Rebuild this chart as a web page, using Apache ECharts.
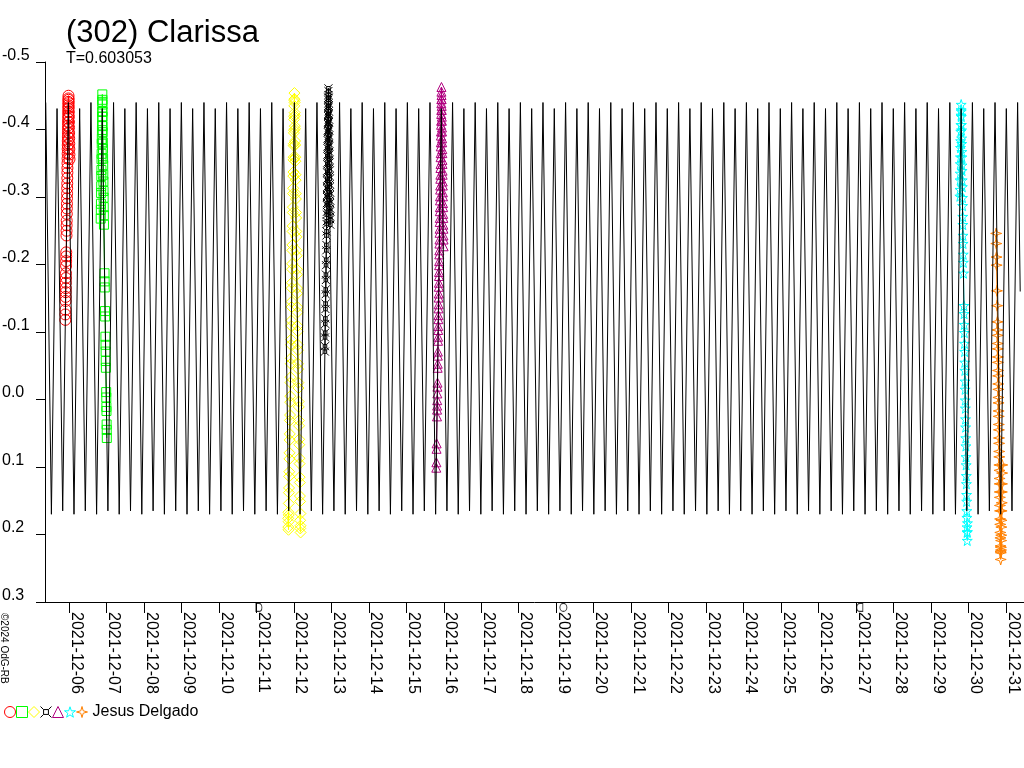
<!DOCTYPE html>
<html>
<head>
<meta charset="utf-8">
<script src="https://cdn.jsdelivr.net/npm/echarts@6/dist/echarts.min.js"></script>
<style>html,body{margin:0;padding:0;background:#fff}#c{width:1024px;height:768px}</style>
</head>
<body>
<div id="c"></div>
<script>
// ---- data (time in days from 2021-12-06 00:00) ----
const titleText = '(302) Clarissa';
const periodText = 'T=0.603053';
const observer = 'Jesus Delgado';
const credit = '\u00a92024 OdG-RB';
const tickLabels = ['2021-12-06','2021-12-07','2021-12-08','2021-12-09','2021-12-10','2021-12-11','2021-12-12','2021-12-13','2021-12-14','2021-12-15','2021-12-16','2021-12-17','2021-12-18','2021-12-19','2021-12-20','2021-12-21','2021-12-22','2021-12-23','2021-12-24','2021-12-25','2021-12-26','2021-12-27','2021-12-28','2021-12-29','2021-12-30','2021-12-31'];
const xMin = -0.6403, xMax = 25.481;

// model lightcurve: one period, repeated with period T
const period = 0.603053;
const epochMax = -0.0174;          // a primary maximum
const shapePhase = [0, 0.25, 0.5, 0.75];
const shapeMag = [-0.440, 0.170, -0.431, 0.165];
const curveStartT = -0.6205;
const curveEnd = [25.38, -0.16];

const obsRed = [[-0.098,-0.118],[-0.096,-0.126],[-0.094,-0.133],[-0.091,-0.146],[-0.089,-0.152],[-0.088,-0.159],[-0.086,-0.165],[-0.084,-0.173],[-0.082,-0.180],[-0.081,-0.187],[-0.078,-0.198],[-0.076,-0.205],[-0.074,-0.212],[-0.073,-0.218],[-0.067,-0.243],[-0.065,-0.250],[-0.063,-0.258],[-0.061,-0.265],[-0.059,-0.275],[-0.057,-0.283],[-0.055,-0.290],[-0.053,-0.298],[-0.051,-0.305],[-0.049,-0.313],[-0.047,-0.320],[-0.045,-0.328],[-0.043,-0.336],[-0.042,-0.343],[-0.040,-0.350],[-0.038,-0.357],[-0.036,-0.364],[-0.035,-0.371],[-0.033,-0.377],[-0.032,-0.383],[-0.030,-0.389],[-0.029,-0.395],[-0.027,-0.401],[-0.026,-0.406],[-0.025,-0.411],[-0.023,-0.416],[-0.022,-0.421],[-0.021,-0.426],[-0.020,-0.431],[-0.019,-0.436],[-0.017,-0.441],[-0.015,-0.446],[-0.013,-0.450],[-0.011,-0.444],[-0.009,-0.439],[-0.007,-0.433],[-0.005,-0.426],[-0.003,-0.419],[-0.001,-0.411],[0.001,-0.403],[0.003,-0.395],[0.005,-0.387],[0.007,-0.379],[0.009,-0.371],[0.011,-0.363],[0.013,-0.356]];
const obsGreen = [[0.846,-0.268],[0.850,-0.281],[0.853,-0.290],[0.856,-0.306],[0.859,-0.316],[0.862,-0.331],[0.865,-0.340],[0.868,-0.356],[0.871,-0.364],[0.874,-0.379],[0.876,-0.386],[0.879,-0.399],[0.881,-0.406],[0.884,-0.419],[0.886,-0.426],[0.888,-0.441],[0.889,-0.452],[0.891,-0.444],[0.892,-0.437],[0.894,-0.427],[0.896,-0.419],[0.898,-0.405],[0.900,-0.396],[0.903,-0.381],[0.906,-0.371],[0.909,-0.357],[0.912,-0.347],[0.915,-0.333],[0.918,-0.323],[0.921,-0.309],[0.924,-0.299],[0.927,-0.285],[0.930,-0.273],[0.933,-0.259],[0.948,-0.187],[0.951,-0.175],[0.954,-0.166],[0.962,-0.131],[0.965,-0.123],[0.972,-0.093],[0.975,-0.081],[0.978,-0.071],[0.981,-0.057],[0.984,-0.047],[0.992,-0.011],[0.995,-0.003],[0.998,0.011],[1.000,0.017],[1.004,0.037],[1.007,0.045],[1.009,0.057]];
const obsYellow = [[5.848,0.176],[5.851,0.189],[5.854,0.167],[5.857,0.193],[5.860,0.181],[5.863,0.171],[5.865,0.154],[5.868,0.138],[5.871,0.131],[5.874,0.114],[5.877,0.107],[5.881,0.088],[5.884,0.079],[5.888,0.060],[5.891,0.051],[5.895,0.031],[5.898,0.023],[5.902,0.004],[5.905,-0.005],[5.909,-0.025],[5.912,-0.033],[5.916,-0.053],[5.919,-0.061],[5.923,-0.081],[5.926,-0.089],[5.930,-0.109],[5.933,-0.117],[5.937,-0.137],[5.940,-0.145],[5.944,-0.165],[5.947,-0.173],[5.951,-0.193],[5.954,-0.201],[5.958,-0.221],[5.961,-0.229],[5.965,-0.249],[5.968,-0.257],[5.972,-0.277],[5.975,-0.285],[5.979,-0.305],[5.982,-0.313],[5.985,-0.331],[5.988,-0.337],[5.991,-0.355],[5.994,-0.359],[5.996,-0.376],[5.999,-0.379],[6.001,-0.395],[6.004,-0.399],[6.006,-0.415],[6.009,-0.419],[6.011,-0.435],[6.013,-0.445],[6.015,-0.454],[6.017,-0.443],[6.019,-0.440],[6.021,-0.425],[6.024,-0.421],[6.026,-0.405],[6.029,-0.401],[6.032,-0.383],[6.035,-0.377],[6.038,-0.359],[6.040,-0.353],[6.043,-0.333],[6.047,-0.325],[6.050,-0.305],[6.054,-0.297],[6.057,-0.277],[6.061,-0.269],[6.064,-0.249],[6.068,-0.241],[6.071,-0.221],[6.075,-0.213],[6.078,-0.193],[6.082,-0.185],[6.085,-0.165],[6.089,-0.157],[6.092,-0.137],[6.096,-0.129],[6.099,-0.109],[6.103,-0.101],[6.106,-0.081],[6.110,-0.073],[6.113,-0.053],[6.117,-0.045],[6.120,-0.025],[6.124,-0.017],[6.127,0.003],[6.131,0.011],[6.134,0.031],[6.138,0.039],[6.141,0.059],[6.145,0.067],[6.148,0.087],[6.152,0.095],[6.155,0.115],[6.159,0.123],[6.162,0.143],[6.166,0.151],[6.168,0.179],[6.171,0.191],[6.174,0.169],[6.177,0.187],[6.180,0.197]];
const obsBlack = [[6.828,-0.071],[6.830,-0.079],[6.832,-0.092],[6.835,-0.099],[6.837,-0.112],[6.840,-0.120],[6.843,-0.134],[6.846,-0.142],[6.849,-0.156],[6.851,-0.163],[6.854,-0.177],[6.856,-0.185],[6.859,-0.199],[6.862,-0.207],[6.865,-0.221],[6.867,-0.229],[6.870,-0.243],[6.872,-0.249],[6.874,-0.260],[6.876,-0.264],[6.878,-0.274],[6.880,-0.278],[6.881,-0.288],[6.883,-0.291],[6.884,-0.300],[6.886,-0.303],[6.888,-0.312],[6.889,-0.315],[6.890,-0.324],[6.892,-0.327],[6.893,-0.336],[6.895,-0.339],[6.896,-0.348],[6.898,-0.351],[6.899,-0.360],[6.901,-0.363],[6.902,-0.372],[6.904,-0.375],[6.905,-0.384],[6.907,-0.387],[6.908,-0.396],[6.910,-0.399],[6.911,-0.408],[6.913,-0.411],[6.914,-0.420],[6.916,-0.423],[6.917,-0.432],[6.918,-0.435],[6.919,-0.444],[6.920,-0.447],[6.921,-0.457],[6.922,-0.461],[6.924,-0.451],[6.926,-0.447],[6.927,-0.439],[6.929,-0.435],[6.930,-0.427],[6.932,-0.423],[6.933,-0.415],[6.935,-0.411],[6.936,-0.403],[6.938,-0.399],[6.939,-0.391],[6.941,-0.387],[6.942,-0.379],[6.944,-0.375],[6.945,-0.367],[6.947,-0.363],[6.948,-0.355],[6.950,-0.351],[6.951,-0.343],[6.953,-0.339],[6.954,-0.331],[6.956,-0.327],[6.957,-0.319],[6.959,-0.315],[6.960,-0.307],[6.962,-0.303],[6.963,-0.295],[6.965,-0.291],[6.966,-0.283],[6.968,-0.279],[6.969,-0.271],[6.971,-0.267],[6.972,-0.259]];
const obsPurple = [[9.800,0.101],[9.802,0.093],[9.807,0.073],[9.809,0.065],[9.819,0.025],[9.821,0.015],[9.823,0.009],[9.825,0.001],[9.828,-0.009],[9.830,-0.019],[9.832,-0.025],[9.837,-0.047],[9.839,-0.053],[9.841,-0.065],[9.843,-0.071],[9.847,-0.087],[9.849,-0.093],[9.851,-0.103],[9.853,-0.109],[9.855,-0.119],[9.857,-0.125],[9.859,-0.135],[9.861,-0.141],[9.863,-0.151],[9.865,-0.157],[9.867,-0.167],[9.869,-0.173],[9.871,-0.183],[9.873,-0.189],[9.875,-0.199],[9.877,-0.205],[9.879,-0.215],[9.881,-0.221],[9.883,-0.231],[9.885,-0.237],[9.887,-0.247],[9.889,-0.253],[9.891,-0.263],[9.893,-0.269],[9.895,-0.279],[9.897,-0.285],[9.899,-0.295],[9.901,-0.301],[9.903,-0.311],[9.905,-0.317],[9.907,-0.327],[9.909,-0.333],[9.911,-0.343],[9.913,-0.349],[9.915,-0.359],[9.917,-0.365],[9.919,-0.375],[9.921,-0.381],[9.923,-0.391],[9.925,-0.397],[9.927,-0.407],[9.929,-0.413],[9.931,-0.423],[9.933,-0.429],[9.934,-0.439],[9.935,-0.445],[9.937,-0.456],[9.938,-0.463],[9.940,-0.451],[9.942,-0.445],[9.944,-0.435],[9.946,-0.429],[9.948,-0.419],[9.950,-0.413],[9.952,-0.403],[9.954,-0.397],[9.956,-0.387],[9.958,-0.381],[9.960,-0.371],[9.962,-0.365],[9.964,-0.355],[9.966,-0.349],[9.968,-0.339],[9.970,-0.333],[9.972,-0.323],[9.974,-0.317],[9.976,-0.307],[9.978,-0.301],[9.980,-0.291],[9.982,-0.285],[9.984,-0.275],[9.986,-0.269],[9.988,-0.259],[9.990,-0.253],[9.992,-0.243],[9.994,-0.237],[9.996,-0.227]];
const obsCyan = [[23.771,-0.301],[23.774,-0.311],[23.777,-0.325],[23.779,-0.335],[23.782,-0.349],[23.785,-0.359],[23.788,-0.373],[23.791,-0.383],[23.794,-0.397],[23.797,-0.407],[23.800,-0.421],[23.803,-0.429],[23.805,-0.437],[23.807,-0.427],[23.809,-0.419],[23.812,-0.407],[23.814,-0.399],[23.817,-0.387],[23.819,-0.379],[23.822,-0.367],[23.824,-0.359],[23.827,-0.347],[23.829,-0.339],[23.832,-0.325],[23.835,-0.315],[23.839,-0.299],[23.842,-0.287],[23.846,-0.271],[23.849,-0.259],[23.853,-0.243],[23.856,-0.231],[23.860,-0.215],[23.863,-0.203],[23.867,-0.187],[23.879,-0.139],[23.882,-0.127],[23.886,-0.111],[23.889,-0.099],[23.893,-0.083],[23.896,-0.071],[23.900,-0.055],[23.903,-0.043],[23.907,-0.027],[23.910,-0.015],[23.914,0.001],[23.917,0.013],[23.921,0.029],[23.924,0.041],[23.928,0.057],[23.931,0.069],[23.935,0.085],[23.938,0.097],[23.942,0.113],[23.945,0.125],[23.949,0.141],[23.952,0.151],[23.955,0.165],[23.958,0.175],[23.961,0.189],[23.964,0.197],[23.967,0.209],[23.970,0.196],[23.973,0.183]];
const obsOrange = [[24.739,-0.246],[24.742,-0.231],[24.748,-0.211],[24.750,-0.199],[24.760,-0.161],[24.765,-0.139],[24.772,-0.115],[24.774,-0.103],[24.777,-0.095],[24.779,-0.083],[24.782,-0.075],[24.784,-0.063],[24.787,-0.055],[24.789,-0.043],[24.792,-0.035],[24.794,-0.023],[24.797,-0.015],[24.799,-0.003],[24.802,0.005],[24.804,0.017],[24.807,0.025],[24.809,0.037],[24.812,0.045],[24.814,0.057],[24.817,0.065],[24.819,0.077],[24.822,0.085],[24.824,0.097],[24.827,0.105],[24.829,0.117],[24.832,0.125],[24.834,0.137],[24.837,0.145],[24.839,0.157],[24.842,0.165],[24.844,0.177],[24.847,0.185],[24.849,0.197],[24.852,0.205],[24.854,0.217],[24.857,0.225],[24.859,0.237],[24.862,0.227],[24.865,0.219],[24.868,0.223],[24.871,0.209],[24.874,0.201],[24.877,0.189],[24.880,0.179],[24.883,0.165],[24.887,0.153],[24.890,0.137],[24.894,0.125],[24.897,0.109],[24.901,0.097]];

// moon phase marks under the time axis
const moonPhases = [[5.067, 'first'], [13.191, 'full'], [21.100, 'last']];
const moonMag = 0.308;

// ---- build ----
const FONT = '"Liberation Sans", Arial, Helvetica, sans-serif';
const dayTicks = tickLabels.map((_, i) => i);

const modelCurve = [];
outer: for (let k = -1; k < 100; k++) {
  for (let j = 0; j < shapePhase.length; j++) {
    const t = epochMax + (k + shapePhase[j]) * period;
    if (t > curveEnd[0]) break outer;
    if (t >= curveStartT - 1e-6) modelCurve.push([t, shapeMag[j]]);
  }
}
modelCurve.push(curveEnd);

const SYM = {
  star5: 'path://M50,0 L61.8,35.3 L97.6,34.5 L69,56.1 L79.4,90.5 L50,70 L20.6,90.5 L31,56.1 L2.4,34.5 L38.2,35.3 Z',
  star4: 'path://M50,0 L61,39 L100,50 L61,61 L50,100 L39,61 L0,50 L39,39 Z',
  curr: 'path://M28,28 L72,28 L72,72 L28,72 Z M0,0 L28,28 M100,0 L72,28 M0,100 L28,72 M100,100 L72,72',
  first: 'path://M20,0 L50,0 C92,0 92,100 50,100 L20,100 Z',
  last: 'path://M80,0 L50,0 C8,0 8,100 50,100 L80,100 Z'
};

const sessions = [
  {name: 'Night 2021-12-05', data: obsRed, color: '#ff0000', symbol: 'circle', size: 11},
  {name: 'Night 2021-12-06', data: obsGreen, color: '#00ff00', symbol: 'rect', size: 9},
  {name: 'Night 2021-12-11', data: obsYellow, color: '#ffff00', symbol: 'diamond', size: 11},
  {name: 'Night 2021-12-12', data: obsBlack, color: '#000000', symbol: SYM.curr, size: 8},
  {name: 'Night 2021-12-15', data: obsPurple, color: '#b0007f', symbol: 'triangle', size: 9},
  {name: 'Night 2021-12-29', data: obsCyan, color: '#00ffff', symbol: SYM.star5, size: 10},
  {name: 'Night 2021-12-30', data: obsOrange, color: '#ff8000', symbol: SYM.star4, size: 11}
];

const series = sessions.map(s => ({
  name: s.name,
  type: 'line',
  data: s.data,
  symbol: s.symbol,
  symbolSize: s.size,
  showSymbol: true,
  z: 2,
  lineStyle: {color: s.color, width: 1},
  itemStyle: {color: 'transparent', borderColor: s.color, borderWidth: 1},
  emphasis: {disabled: true},
  silent: true
}));

series.push({
  name: 'model',
  type: 'line',
  data: modelCurve,
  symbol: 'none',
  z: 3,
  lineStyle: {color: '#000', width: 1},
  emphasis: {disabled: true},
  silent: true
});

series.push({
  name: 'moon',
  type: 'scatter',
  clip: false,
  z: 2,
  silent: true,
  data: moonPhases.map(m => ({
    value: [m[0], moonMag],
    symbol: m[1] === 'full' ? 'circle' : SYM[m[1]],
    symbolSize: m[1] === 'full' ? [7, 8] : [6, 8]
  })),
  itemStyle: {color: 'transparent', borderColor: '#000', borderWidth: 1}
});

const chart = echarts.init(document.getElementById('c'), null, {renderer: 'canvas'});
chart.setOption({
  animation: false,
  backgroundColor: '#ffffff',
  title: [
    {text: titleText, left: 66, top: 18, padding: 0, textStyle: {fontSize: 31, fontWeight: 'normal', color: '#000', fontFamily: FONT, lineHeight: 31}},
    {text: periodText, left: 66, top: 51, padding: 0, textStyle: {fontSize: 16, fontWeight: 'normal', color: '#000', fontFamily: FONT, lineHeight: 16}}
  ],
  legend: {
    left: 4, top: 704, padding: 0, orient: 'horizontal',
    itemWidth: 11, itemHeight: 11, itemGap: 0,
    selectedMode: false,
    textStyle: {fontSize: 16, color: '#000', fontFamily: FONT},
    formatter: name => name === sessions[sessions.length - 1].name ? observer : '',
    data: sessions.map(s => ({
      name: s.name,
      icon: s.symbol,
      itemStyle: {color: 'transparent', borderColor: s.color, borderWidth: 1}
    }))
  },
  grid: {left: 45, top: 62, right: 0, bottom: 166, containLabel: false, outerBoundsMode: 'none'},
  xAxis: {
    type: 'value', min: xMin, max: xMax,
    axisLine: {show: true, onZero: false, lineStyle: {color: '#000', width: 1}},
    axisTick: {show: true, customValues: dayTicks, length: 11, inside: false, lineStyle: {color: '#000', width: 1}},
    axisLabel: {
      show: true, customValues: dayTicks, rotate: -90, margin: 10,
      verticalAlign: 'bottom', lineHeight: 14,
      color: '#000', fontSize: 16, fontFamily: FONT,
      formatter: v => tickLabels[Math.round(v)] || ''
    },
    splitLine: {show: false}
  },
  yAxis: {
    type: 'value', inverse: true, min: -0.5, max: 0.3, interval: 0.1,
    axisLine: {show: true, onZero: false, lineStyle: {color: '#000', width: 1}},
    axisTick: {show: true, length: 9, inside: false, lineStyle: {color: '#000', width: 1}},
    axisLabel: {
      show: true, align: 'left', margin: 43, verticalAlign: 'bottom', lineHeight: 13,
      color: '#000', fontSize: 16, fontFamily: FONT,
      formatter: v => (Math.abs(v) < 1e-9 ? 0 : v).toFixed(1)
    },
    splitLine: {show: false}
  },
  graphic: [{
    type: 'text', x: 4, y: 613, rotation: -Math.PI / 2, silent: true,
    style: {text: credit, font: '10px ' + FONT, fill: '#000', textAlign: 'left', textVerticalAlign: 'middle'}
  }],
  series: series
});
</script>
</body>
</html>
